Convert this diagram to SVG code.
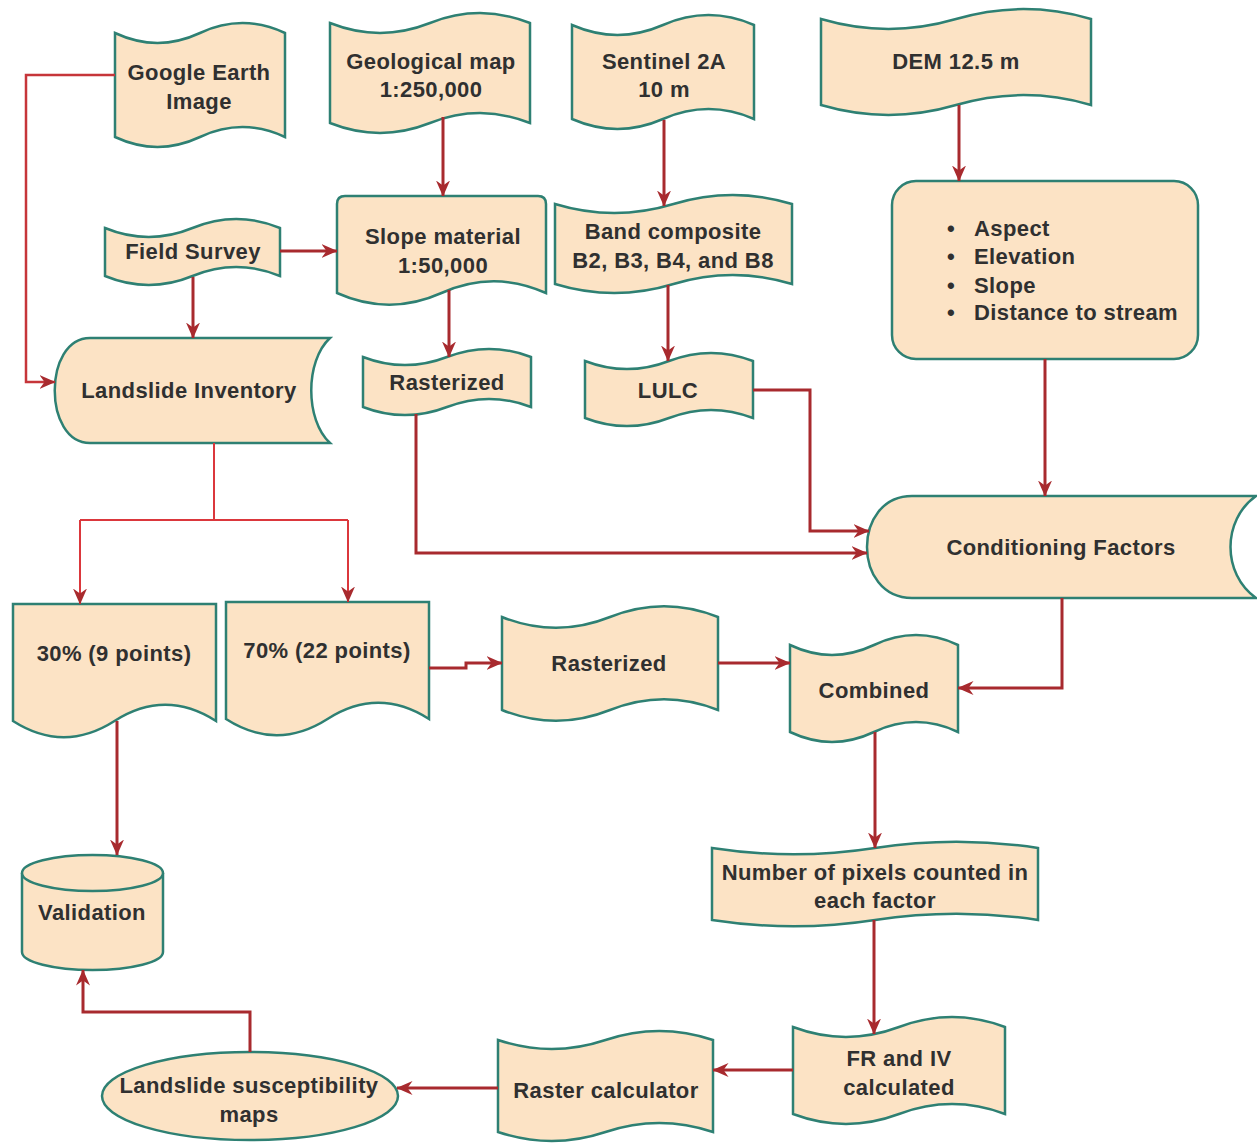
<svg xmlns="http://www.w3.org/2000/svg" width="1257" height="1147" viewBox="0 0 1257 1147">
<style>
.n{fill:#FCE3C5;stroke:#2E8073;stroke-width:2.5;}
.t{font-family:"Liberation Sans",Arial,sans-serif;font-weight:bold;font-size:22px;letter-spacing:0.4px;fill:#303030;text-anchor:middle;dominant-baseline:central;}
.tl{font-family:"Liberation Sans",Arial,sans-serif;font-weight:bold;font-size:22px;letter-spacing:0.4px;fill:#303030;dominant-baseline:central;}
.c{fill:none;stroke:#A82A2E;stroke-width:3;marker-end:url(#ah);}
.r{fill:none;stroke:#DB373C;stroke-width:2;}
.ra{fill:none;stroke:#DB373C;stroke-width:2;marker-end:url(#ah);}
.rg{fill:none;stroke:#C6353A;stroke-width:2.5;marker-end:url(#ah);}
</style>
<defs>
<marker id="ah" markerUnits="userSpaceOnUse" viewBox="0 0 16 14" markerWidth="16" markerHeight="14" refX="15.5" refY="7" orient="auto">
<path d="M0,0 L16,7 L0,14 L5,7 Z" fill="#A82A2E"/>
</marker>
</defs>
<rect width="1257" height="1147" fill="#FFFFFF"/>

<g id="google-earth">
<path class="n" d="M115,33 Q157.5,52.8 200,33 Q242.5,13.2 285,33 V137 Q242.5,117.2 200,137 Q157.5,156.8 115,137 Z"/>
<text class="t" x="199" y="72">Google Earth</text>
<text class="t" x="199" y="101">Image</text>
</g>
<g id="geological-map">
<path class="n" d="M330,23 Q380,42.8 430,23 Q480,3.2 530,23 V123 Q480,103.2 430,123 Q380,142.8 330,123 Z"/>
<text class="t" x="431" y="61">Geological map</text>
<text class="t" x="431" y="89">1:250,000</text>
</g>
<g id="sentinel">
<path class="n" d="M572,25 Q617.5,44.8 663,25 Q708.5,5.2 754,25 V119 Q708.5,99.2 663,119 Q617.5,138.8 572,119 Z"/>
<text class="t" x="664" y="61">Sentinel 2A</text>
<text class="t" x="664" y="89">10 m</text>
</g>
<g id="dem">
<path class="n" d="M821,19 Q888.5,38.8 956,19 Q1023.5,-0.8 1091,19 V105 Q1023.5,85.2 956,105 Q888.5,124.8 821,105 Z"/>
<text class="t" x="956" y="61">DEM 12.5 m</text>
</g>
<g id="field-survey">
<path class="n" d="M105,228 Q148.75,246 192.5,228 Q236.25,210 280,228 V276 Q236.25,258 192.5,276 Q148.75,294 105,276 Z"/>
<text class="t" x="193" y="251">Field Survey</text>
</g>
<g id="slope-material">
<path class="n" d="M345,196 H538 Q546,196 546,204 V293 Q493.75,269.6 441.5,293 Q389.25,316.4 337,293 V204 Q337,196 345,196 Z"/>
<text class="t" x="443" y="236">Slope material</text>
<text class="t" x="443" y="265">1:50,000</text>
</g>
<g id="band-composite">
<path class="n" d="M555,204 Q614.25,222 673.5,204 Q732.75,186 792,204 V284 Q732.75,266 673.5,284 Q614.25,302 555,284 Z"/>
<text class="t" x="673" y="231">Band composite</text>
<text class="t" x="673" y="260">B2, B3, B4, and B8</text>
</g>
<g id="dem-factors">
<rect class="n" x="892" y="181" width="306" height="178" rx="24"/>
<text class="tl" x="947" y="228">•</text>
<text class="tl" x="974" y="228">Aspect</text>
<text class="tl" x="947" y="256">•</text>
<text class="tl" x="974" y="256">Elevation</text>
<text class="tl" x="947" y="285">•</text>
<text class="tl" x="974" y="285">Slope</text>
<text class="tl" x="947" y="312">•</text>
<text class="tl" x="974" y="312">Distance to stream</text>
</g>
<g id="landslide-inventory">
<path class="n" d="M90,338 H330 C305,361 305,420 330,443 H90 C43,443 43,338 90,338 Z"/>
<text class="t" x="189" y="390">Landslide Inventory</text>
</g>
<g id="rasterized-1">
<path class="n" d="M363,357 Q405,373.2 447,357 Q489,340.8 531,357 V407 Q489,390.8 447,407 Q405,423.2 363,407 Z"/>
<text class="t" x="447" y="382">Rasterized</text>
</g>
<g id="lulc">
<path class="n" d="M585,361 Q627,377.2 669,361 Q711,344.8 753,361 V418 Q711,401.8 669,418 Q627,434.2 585,418 Z"/>
<text class="t" x="668" y="390">LULC</text>
</g>
<g id="conditioning-factors">
<path class="n" d="M912,496 H1256 C1222,520 1222,574 1256,598 H912 C852,598 852,496 912,496 Z"/>
<text class="t" x="1061" y="547">Conditioning Factors</text>
</g>
<g id="split-30">
<path class="n" d="M13,604 H216 V721 Q165.25,688.6 114.5,721 Q63.75,753.4 13,721 Z"/>
<text class="t" x="114" y="653">30% (9 points)</text>
</g>
<g id="split-70">
<path class="n" d="M226,602 H429 V719 Q378.25,686.6 327.5,719 Q276.75,751.4 226,719 Z"/>
<text class="t" x="327" y="650">70% (22 points)</text>
</g>
<g id="rasterized-2">
<path class="n" d="M502,617 Q556,638.6 610,617 Q664,595.4 718,617 V710 Q664,688.4 610,710 Q556,731.6 502,710 Z"/>
<text class="t" x="609" y="663">Rasterized</text>
</g>
<g id="combined">
<path class="n" d="M790,645 Q832,664.8 874,645 Q916,625.2 958,645 V732 Q916,712.2 874,732 Q832,751.8 790,732 Z"/>
<text class="t" x="874" y="690">Combined</text>
</g>
<g id="validation">
<path class="n" d="M22,873 A70.5,18 0 0 1 163,873 V952 A70.5,18 0 0 1 22,952 Z"/>
<path class="n" d="M22,873 A70.5,18 0 0 0 163,873"/>
<text class="t" x="92" y="912">Validation</text>
</g>
<g id="pixel-count">
<path class="n" d="M712,848 Q793.5,860.6 875,848 Q956.5,835.4 1038,848 V920 Q956.5,907.4 875,920 Q793.5,932.6 712,920 Z"/>
<text class="t" x="875" y="872">Number of pixels counted in</text>
<text class="t" x="875" y="900">each factor</text>
</g>
<g id="fr-iv">
<path class="n" d="M793,1027 Q846,1046.8 899,1027 Q952,1007.2 1005,1027 V1114 Q952,1094.2 899,1114 Q846,1133.8 793,1114 Z"/>
<text class="t" x="899" y="1058">FR and IV</text>
<text class="t" x="899" y="1087">calculated</text>
</g>
<g id="raster-calculator">
<path class="n" d="M498,1040 Q551.75,1058 605.5,1040 Q659.25,1022 713,1040 V1132 Q659.25,1114 605.5,1132 Q551.75,1150 498,1132 Z"/>
<text class="t" x="606" y="1090">Raster calculator</text>
</g>
<g id="susceptibility-maps">
<ellipse class="n" cx="250" cy="1096" rx="148" ry="44"/>
<text class="t" x="249" y="1085">Landslide susceptibility</text>
<text class="t" x="249" y="1114">maps</text>
</g>

<g id="connectors">
<path class="rg" d="M115,75 H26 V382 H55"/>
<path class="c" d="M443,117 V196"/>
<path class="c" d="M280,251 H337"/>
<path class="c" d="M193,277 V338"/>
<path class="c" d="M449,290 V357"/>
<path class="c" d="M664,120 V206"/>
<path class="c" d="M668,285 V361"/>
<path class="c" d="M959,105 V181"/>
<path class="c" d="M1045,359 V496"/>
<path class="c" d="M753,390 H810 V531 H869"/>
<path class="c" d="M416,414 V553 H867"/>
<path class="r" d="M214,443 V520"/>
<path class="r" d="M80,520 H348"/>
<path class="ra" d="M80,520 V604"/>
<path class="ra" d="M348,520 V602"/>
<path class="c" d="M429,668 H466 V663 H502"/>
<path class="c" d="M718,663 H790"/>
<path class="c" d="M1062,598 V688 H958"/>
<path class="c" d="M875,732 V848"/>
<path class="c" d="M874,920 V1034"/>
<path class="c" d="M793,1070 H713"/>
<path class="c" d="M498,1088 H397"/>
<path class="c" d="M250,1052 V1012 H83 V970"/>
<path class="c" d="M117,721 V855"/>
</g>
</svg>
